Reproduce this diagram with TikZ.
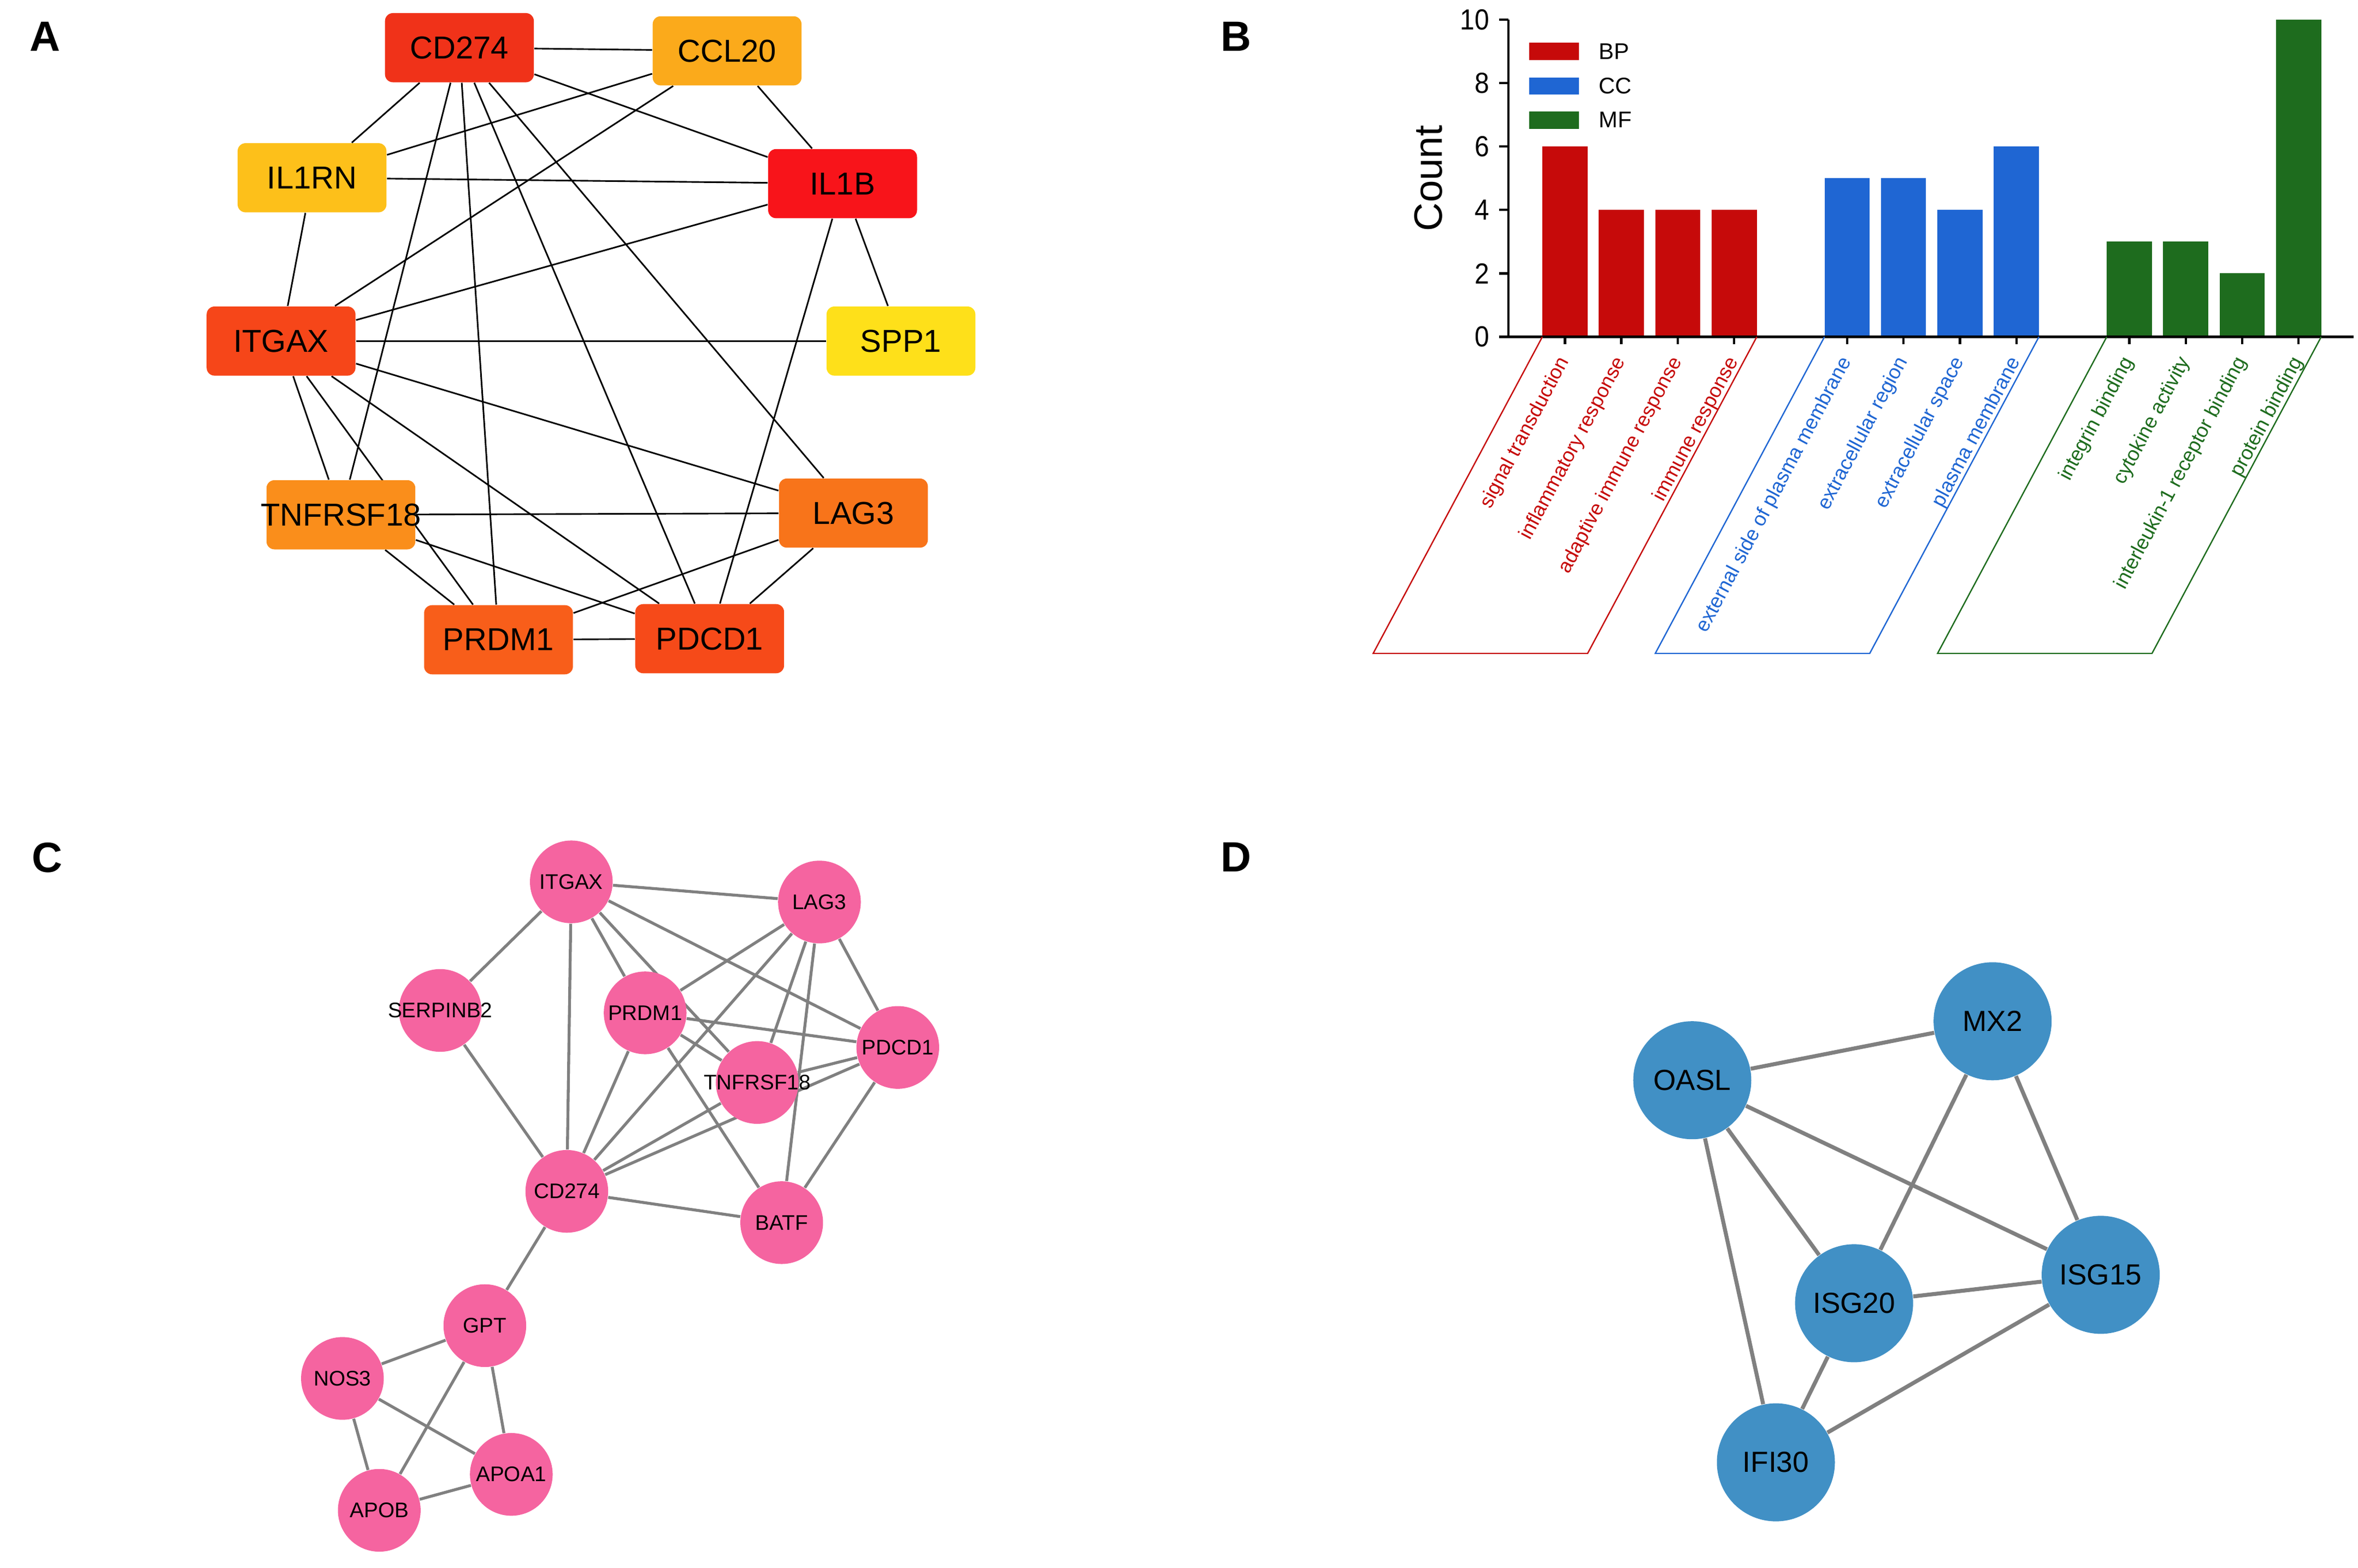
\documentclass[tikz,border=0pt]{standalone}
\usepackage{fontspec}
\setmainfont{Liberation Sans}
\newfontfamily\narrowsans[FakeStretch=0.9]{Liberation Sans}
\usetikzlibrary{positioning,backgrounds}

\definecolor{hiCD}{HTML}{F03219}
\definecolor{hiCCL}{HTML}{FBAA1B}
\definecolor{hiRN}{HTML}{FDC01A}
\definecolor{hiILB}{HTML}{F8141A}
\definecolor{hiITG}{HTML}{F64619}
\definecolor{hiSPP}{HTML}{FEE01A}
\definecolor{hiTNF}{HTML}{FA8E1B}
\definecolor{hiLAG}{HTML}{F8741A}
\definecolor{hiPRD}{HTML}{F85E1A}
\definecolor{hiPDC}{HTML}{F64A19}
\definecolor{goBP}{HTML}{C60A0A}
\definecolor{goCC}{HTML}{1F66D3}
\definecolor{goMF}{HTML}{1E6C1E}
\definecolor{netpink}{HTML}{F564A0}
\definecolor{netblue}{HTML}{4190C5}
\definecolor{netgray}{HTML}{808080}

\begin{document}
\begin{tikzpicture}[x=0.02cm, y=-0.02cm,
  hubbox/.style={rectangle, rounded corners=3pt, minimum width=1.98cm, minimum height=0.92cm, inner sep=0pt, font=\fontsize{12}{14}\selectfont},
  pinknode/.style={circle, fill=netpink, minimum size=1.1cm, inner sep=0pt, font=\fontsize{8}{9.5}\selectfont},
  bluenode/.style={circle, fill=netblue, minimum size=1.57cm, inner sep=0pt, font=\fontsize{11}{13}\selectfont},
  panel/.style={anchor=base west, inner sep=0pt, font=\fontsize{16}{19}\selectfont\bfseries},
  hubedge/.style={black, line width=0.6pt},
  pinkedge/.style={netgray, line width=1.1pt},
  blueedge/.style={netgray, line width=1.5pt},
  axisline/.style={black, line width=0.9pt},
  golabel/.style={anchor=base east, inner sep=0pt, rotate=62, font=\fontsize{7.6}{8.5}\selectfont}]

\useasboundingbox (0,0) rectangle (1568,1042.6);

% panel letters
\node[panel] (labA) at (19.5,33.9) {A};
\node[panel] (labB) at (811.5,33.9) {B};
\node[panel] (labC) at (21,580) {C};
\node[panel] (labD) at (811.5,579.8) {D};

% A: hub genes
\node[hubbox, fill=hiCD]  (A_CD274) at (305.5,31.7) {CD274};
\node[hubbox, fill=hiCCL] (A_CCL20) at (483.5,33.8) {CCL20};
\node[hubbox, fill=hiRN]  (A_IL1RN) at (207.5,118.2) {IL1RN};
\node[hubbox, fill=hiILB] (A_IL1B) at (560.3,122.1) {IL1B};
\node[hubbox, fill=hiITG] (A_ITGAX) at (186.9,226.8) {ITGAX};
\node[hubbox, fill=hiSPP] (A_SPP1) at (599.1,226.8) {SPP1};
\node[hubbox, fill=hiTNF] (A_TNFRSF18) at (226.7,342.3) {\makebox[0pt]{TNFRSF18}};
\node[hubbox, fill=hiLAG] (A_LAG3) at (567.5,341.2) {LAG3};
\node[hubbox, fill=hiPRD] (A_PRDM1) at (331.5,425.4) {PRDM1};
\node[hubbox, fill=hiPDC] (A_PDCD1) at (471.9,424.7) {PDCD1};

% B: GO bar chart
\foreach \k/\v/\c/\t in {0/6/goBP/signal transduction, 1/4/goBP/inflammatory response,
    2/4/goBP/adaptive immune response, 3/4/goBP/immune response,
    5/5/goCC/external side of plasma membrane, 6/5/goCC/extracellular region,
    7/4/goCC/extracellular space, 8/6/goCC/plasma membrane,
    10/3/goMF/integrin binding, 11/3/goMF/cytokine activity,
    12/2/goMF/interleukin-1 receptor binding, 13/10/goMF/protein binding}
{
  \fill[\c] ({1025.6+37.53*\k},224) rectangle ++(30,{-21.1*\v});
  \draw[axisline] ({1040.6+37.53*\k},224) -- ++(0,5);
  \node[golabel, text=\c] (go\k) at ({1043.6+37.53*\k},240) {\t};
}
\foreach \v in {0,2,...,10}
{
  \draw[axisline] (1003,{224-21.1*\v}) -- ++(-6,0);
  \node[anchor=east, inner sep=0pt, font=\narrowsans\fontsize{11}{13}\selectfont] (ytick\v) at (990.6,{224-21.1*\v}) {\v};
}
\draw[axisline] (1003,13) -- (1003,224) -- (1565,224);
\node[rotate=90, inner sep=0pt, font=\fontsize{15}{18}\selectfont] (count) at (950,118.6) {Count};

\draw[goBP, line width=0.5pt] (1025.6,224) -- (913.1,434.5) -- (1055.7,434.5) -- (1168.2,224);
\draw[goCC, line width=0.5pt] (1213.2,224) -- (1100.7,434.5) -- (1243.3,434.5) -- (1355.8,224);
\draw[goMF, line width=0.5pt] (1400.9,224) -- (1288.4,434.5) -- (1431,434.5) -- (1543.5,224);

% legend
\fill[goBP] (1017,28.5) rectangle (1050,40);
\fill[goCC] (1017,51.5) rectangle (1050,63);
\fill[goMF] (1017,74) rectangle (1050,85.7);
\node[anchor=west, inner sep=0pt, font=\fontsize{8.6}{10}\selectfont] (legBP) at (1063,34.3) {BP};
\node[anchor=west, inner sep=0pt, font=\fontsize{8.6}{10}\selectfont] (legCC) at (1063,57.2) {CC};
\node[anchor=west, inner sep=0pt, font=\fontsize{8.6}{10}\selectfont] (legMF) at (1063,79.8) {MF};

% C: PPI network
\node[pinknode] (C_ITGAX) at (379.9,586.4) {ITGAX};
\node[pinknode] (C_LAG3) at (544.9,599.8) {LAG3};
\node[pinknode] (C_SERPINB2) at (292.7,671.9) {\makebox[0pt]{SERPINB2}};
\node[pinknode] (C_PRDM1) at (429,673.5) {PRDM1};
\node[pinknode] (C_PDCD1) at (597,696.5) {PDCD1};
\node[pinknode] (C_TNFRSF18) at (503.5,719.8) {\makebox[0pt]{TNFRSF18}};
\node[pinknode] (C_CD274) at (376.9,792.2) {CD274};
\node[pinknode] (C_BATF) at (519.8,813) {BATF};
\node[pinknode] (C_GPT) at (322.4,881.5) {GPT};
\node[pinknode] (C_NOS3) at (227.7,916.6) {NOS3};
\node[pinknode] (C_APOA1) at (340,980.4) {APOA1};
\node[pinknode] (C_APOB) at (252.2,1004.3) {APOB};

% D: PPI network
\node[bluenode] (D_MX2) at (1325,679.1) {MX2};
\node[bluenode] (D_OASL) at (1125.3,718.3) {OASL};
\node[bluenode] (D_ISG20) at (1232.9,866.6) {ISG20};
\node[bluenode] (D_ISG15) at (1396.9,847.7) {ISG15};
\node[bluenode] (D_IFI30) at (1180.9,972.4) {IFI30};

\begin{scope}[on background layer]
  \fill[white] (0,0) rectangle (1568,1042.6);
  \foreach \u/\v in {CD274/CCL20, CD274/IL1B, CD274/IL1RN, CD274/TNFRSF18, CD274/PRDM1,
      CD274/PDCD1, CD274/LAG3, CCL20/IL1RN, CCL20/ITGAX, CCL20/IL1B, IL1RN/IL1B,
      IL1RN/ITGAX, IL1B/ITGAX, IL1B/SPP1, IL1B/PDCD1, ITGAX/SPP1, ITGAX/LAG3,
      ITGAX/TNFRSF18, ITGAX/PRDM1, ITGAX/PDCD1, TNFRSF18/LAG3, TNFRSF18/PRDM1,
      TNFRSF18/PDCD1, LAG3/PRDM1, LAG3/PDCD1, PRDM1/PDCD1}
    \draw[hubedge] (A_\u) -- (A_\v);
  \foreach \u/\v in {ITGAX/LAG3, ITGAX/SERPINB2, ITGAX/CD274, ITGAX/PRDM1, ITGAX/TNFRSF18,
      ITGAX/PDCD1, LAG3/PRDM1, LAG3/CD274, LAG3/TNFRSF18, LAG3/BATF, LAG3/PDCD1,
      SERPINB2/CD274, PRDM1/CD274, PRDM1/TNFRSF18, PRDM1/PDCD1, PRDM1/BATF,
      TNFRSF18/PDCD1, TNFRSF18/CD274, PDCD1/CD274, PDCD1/BATF, CD274/BATF,
      CD274/GPT, GPT/NOS3, GPT/APOA1, GPT/APOB, NOS3/APOA1, NOS3/APOB, APOB/APOA1}
    \draw[pinkedge] (C_\u) -- (C_\v);
  \foreach \u/\v in {OASL/MX2, OASL/ISG15, OASL/ISG20, OASL/IFI30, MX2/ISG20,
      MX2/ISG15, ISG20/ISG15, ISG20/IFI30, ISG15/IFI30}
    \draw[blueedge] (D_\u) -- (D_\v);
\end{scope}
\end{tikzpicture}
\end{document}
